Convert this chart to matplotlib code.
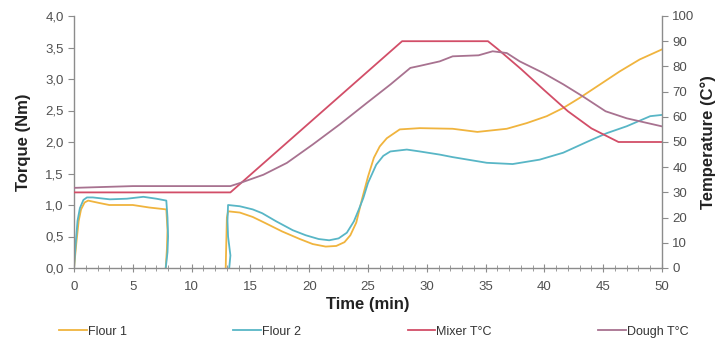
import matplotlib
matplotlib.use("Agg")
import matplotlib.pyplot as plt
from matplotlib.ticker import MultipleLocator, FuncFormatter
import numpy as np

plt.rcParams['font.family'] = ['Liberation Sans', 'DejaVu Sans']

# Torque curves (Nm); NaN separates the two mixing phases
flour1_t = [0, 0.2, 0.4, 0.6, 0.9, 1.2, 2.2, 3.0, 4.0, 5.0, 6.4, 7.85, 7.95, 7.9, 7.8,
            np.nan,
            12.9, 12.95, 13.0, 13.1, 14.1, 15.2, 16.3, 17.7, 19.2, 20.3, 21.4, 22.3, 23.0,
            23.5, 24.0, 24.5, 25.0, 25.5, 26.0, 26.6, 27.7, 29.4, 32.2, 34.3, 36.8, 38.5, 40.2,
            41.6, 43.0, 44.7, 46.4, 48.1, 50.0]
flour1_v = [0, 0.4, 0.75, 0.93, 1.04, 1.07, 1.03, 1.0, 1.0, 1.0, 0.96, 0.93, 0.6, 0.3, 0,
            np.nan,
            0, 0.4, 0.8, 0.9, 0.88, 0.81, 0.71, 0.58, 0.46, 0.38, 0.34, 0.35, 0.41,
            0.52, 0.72, 1.1, 1.45, 1.75, 1.93, 2.06, 2.2, 2.22, 2.21, 2.16, 2.21, 2.30, 2.41,
            2.54, 2.70, 2.91, 3.12, 3.31, 3.47]

flour2_t = [0, 0.15, 0.3, 0.5, 0.8, 1.1, 1.6, 3.05, 4.5, 5.9, 7.0, 7.85, 7.95, 8.0, 7.95, 7.8,
            np.nan,
            13.2, 13.3, 13.1, 13.05, 13.1, 14.1, 15.2, 16.0, 17.2, 18.6, 19.7, 20.8, 21.7,
            22.5, 23.2, 23.8, 24.2, 24.6, 25.0, 25.7, 26.3, 26.9, 28.3, 29.4, 31.1, 32.2, 35.1,
            37.3, 39.6, 41.6, 43.6, 45.3, 47.0, 49.0, 50.0]
flour2_v = [0, 0.4, 0.75, 0.95, 1.08, 1.12, 1.12, 1.09, 1.10, 1.13, 1.10, 1.07, 0.8, 0.5, 0.25, 0,
            np.nan,
            0, 0.2, 0.5, 0.75, 1.0, 0.98, 0.93, 0.87, 0.74, 0.6, 0.52, 0.46, 0.44,
            0.47, 0.56, 0.74, 0.92, 1.11, 1.35, 1.64, 1.78, 1.85, 1.88, 1.85, 1.80, 1.76, 1.67,
            1.65, 1.72, 1.83, 2.0, 2.14, 2.25, 2.41, 2.43]

# Temperatures (°C)
mixer_t = [0, 13.3, 27.9, 35.2, 36.0, 38.0, 40.0, 42.0, 44.0, 46.3, 50.0]
mixer_v = [30, 30, 90, 90, 87, 79, 70.5, 62.2, 55.4, 50, 50]

dough_t = [0, 5, 13.3, 14.1, 16.1, 18.1, 20.3, 22.6, 24.9, 26.9, 28.6, 29.4, 31.1, 32.2,
           34.4, 35.6, 36.8, 37.9, 39.9, 41.6, 43.3, 45.2, 47.0, 50.0]
dough_v = [31.8, 32.5, 32.5, 33.7, 37, 41.7, 49, 57, 65.5, 72.8, 79.4, 80.2, 82, 84,
           84.4, 86, 85.3, 82, 77.4, 72.9, 68, 62.2, 59.4, 56.2]

c_f1 = '#F0B43E'
c_f2 = '#58B6C6'
c_mix = '#D24E68'
c_dough = '#A87290'
grey = '#8C8C8C'
txt = '#505050'

fig = plt.figure(figsize=(7.18, 3.39), dpi=100)
ax = fig.add_axes([74/718, 1-268/339, (662-74)/718, (268-16)/339])
ax2 = ax.twinx()

l1, = ax.plot(flour1_t, flour1_v, color=c_f1, lw=1.3, label='Flour 1')
l2, = ax.plot(flour2_t, flour2_v, color=c_f2, lw=1.3, label='Flour 2')
l3, = ax2.plot(mixer_t, mixer_v, color=c_mix, lw=1.3, label='Mixer T°C')
l4, = ax2.plot(dough_t, dough_v, color=c_dough, lw=1.3, label='Dough T°C')

ax.set_xlim(0, 50)
ax.set_ylim(0, 4)
ax2.set_ylim(0, 100)

ax.xaxis.set_major_locator(MultipleLocator(5))
ax.xaxis.set_minor_locator(MultipleLocator(1))
ax.yaxis.set_major_locator(MultipleLocator(0.5))
ax2.yaxis.set_major_locator(MultipleLocator(10))
ax.yaxis.set_major_formatter(FuncFormatter(lambda v, p: f'{v:.1f}'.replace('.', ',')))

for a in (ax, ax2):
    a.spines['top'].set_visible(False)
    for s in ('left', 'right', 'bottom'):
        a.spines[s].set_color(grey)
        a.spines[s].set_linewidth(1.0)
ax.spines['right'].set_visible(False)
ax2.spines['left'].set_visible(False)
ax2.spines['bottom'].set_visible(False)

ax.tick_params(axis='x', which='both', direction='inout', colors=grey, labelcolor=txt,
               labelsize=9.5, pad=6)
ax.tick_params(axis='x', which='major', length=6)
ax.tick_params(axis='x', which='minor', length=5)
ax.tick_params(axis='y', direction='out', length=4, colors=grey, labelcolor=txt, labelsize=9.5)
ax2.tick_params(axis='y', direction='out', length=4, colors=grey, labelcolor=txt, labelsize=9.5)

ax.set_xlabel('Time (min)', fontsize=12, fontweight='bold', color='#222222', labelpad=3)
ax.set_ylabel('Torque (Nm)', fontsize=12, fontweight='bold', color='#222222', labelpad=10)
ax2.set_ylabel('Temperature (C°)', fontsize=12, fontweight='bold', color='#222222', labelpad=4)

fig.legend(handles=[l1, l2, l3, l4], loc='center', ncol=4, mode='expand',
           bbox_to_anchor=(48/718, 1-340/339, (700-48)/718, 0.05), frameon=False,
           fontsize=9, handlelength=2.2, handletextpad=0.1, labelcolor='#333333')

fig.savefig('out.png', dpi=100)
